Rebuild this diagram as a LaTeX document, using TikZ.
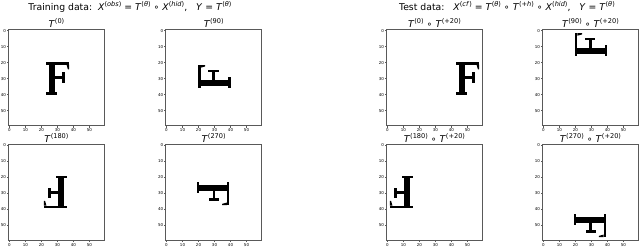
\documentclass[tikz,border=0pt]{standalone}
\usepackage{fontspec}
\setmainfont{DejaVu Sans}
\tikzset{
  axbox/.style={draw=black!65, line width=0.6pt, minimum width=96pt, minimum height=96pt, inner sep=0pt, outer sep=0pt, anchor=north west, fill=white},
  ttl/.style={font=\fontsize{9.3}{10}\selectfont, inner sep=0pt, anchor=base},
  tickln/.style={draw=black!65, line width=0.4pt},
  ticklbl/.style={font=\fontsize{4}{4}\selectfont, inner sep=0.6pt},
  glyph/.style={fill=black}
}
\newcommand\spx[1]{\raisebox{0.42em}{\fontsize{6.6}{7}\selectfont #1}}
\newcommand\Fglyph{%
  \fill[glyph] (24.6,19.8) rectangle (28.4,40);
  \fill[glyph] (23.2,19.8) rectangle (37.4,21.3);
  \fill[glyph] (35.8,21.3) -- (37.4,21.3) -- (37.4,24.2) -- (36.6,24.2) -- cycle;
  \fill[glyph] (28.4,28.6) rectangle (34,30.2);
  \fill[glyph] (33.2,26) rectangle (34.6,32.6);
  \fill[glyph] (23.2,38.6) rectangle (30,40);
}
\newcommand\myplot[6]{%
  \node[axbox] (#1) at (#2,#3) {};
  \node[ttl] (#1t) at (#1.north) [yshift=2.4pt] {#4};
  \foreach \t in {0,10,20,30,40,50} {
    \path (#1.south west) ++({(\t+0.5)*1.6},0) coordinate (#1bx\t);
    \draw[tickln] (#1bx\t) -- ++(0,1.8) node[ticklbl, anchor=north] (#1bl\t) {\t};
    \path (#1.north west) ++(0,{(\t+0.5)*1.6}) coordinate (#1ly\t);
    \draw[tickln] (#1ly\t) -- ++(-1.8,0) node[ticklbl, anchor=east] (#1ll\t) {\t};
  }
  \begin{scope}[shift={(#1.north west)}, x=1.6pt, y=-1.6pt, shift={(0.5,0.5)}]
    \begin{scope}[rotate around={#5:(29.5,29.5)}, xshift=#6*1.6pt]
      \Fglyph
    \end{scope}
  \end{scope}
}
\begin{document}
\begin{tikzpicture}[x=1pt,y=-1pt]
\useasboundingbox (0,0) rectangle (640,248);
\fill[white] (0,0) rectangle (640,248);
\node[ttl] (sup1) at (130,10.7) {Training data:\ \ \textit{X}\spx{(\textit{obs})} = \textit{T}\spx{(\textit{θ})} ∘ \textit{X}\spx{(\textit{hid})},\ \ \ \textit{Y} = \textit{T}\spx{(\textit{θ})}};
\node[ttl] (sup2) at (507,10.7) {Test data:\ \ \ \textit{X}\spx{(\textit{cf})} = \textit{T}\spx{(\textit{θ})} ∘ \textit{T}\spx{(+\textit{h})} ∘ \textit{X}\spx{(\textit{hid})},\ \ \ \textit{Y} = \textit{T}\spx{(\textit{θ})}};
\myplot{pa}{8.5}{29.8}{\textit{T}\spx{(0)}}{0}{0}
\myplot{pb}{165.7}{29.8}{\textit{T}\spx{(90)}}{90}{0}
\myplot{pc}{386.5}{29.8}{\textit{T}\spx{(0)} ∘ \textit{T}\spx{(+20)}}{0}{20}
\myplot{pd}{542.5}{29.8}{\textit{T}\spx{(90)} ∘ \textit{T}\spx{(+20)}}{90}{20}
\myplot{pe}{8.5}{144.5}{\textit{T}\spx{(180)}}{180}{0}
\myplot{pf}{165.7}{144.5}{\textit{T}\spx{(270)}}{270}{0}
\myplot{pg}{386.5}{144.5}{\textit{T}\spx{(180)} ∘ \textit{T}\spx{(+20)}}{180}{20}
\myplot{ph}{542.5}{144.5}{\textit{T}\spx{(270)} ∘ \textit{T}\spx{(+20)}}{270}{20}
\end{tikzpicture}
\end{document}
